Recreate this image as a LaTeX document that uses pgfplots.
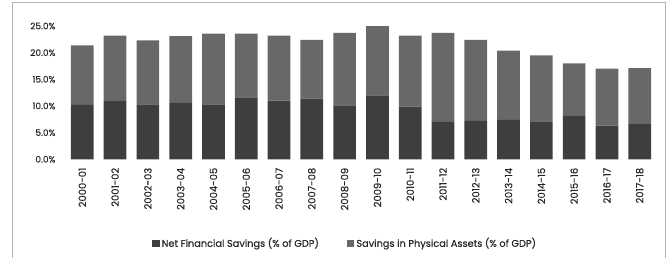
\documentclass[border=0pt]{standalone}
\usepackage{pgfplots}
\pgfplotsset{compat=1.18}
\usepackage{fontspec}
\setmainfont{Poppins}
\newfontfamily\chartfont{Poppins}[FakeBold=0.35]
\definecolor{darkbar}{HTML}{3E3E3E}
\definecolor{lightbar}{HTML}{686868}
\definecolor{framegray}{HTML}{B4B4B4}
\begin{document}
\begin{tikzpicture}[x=1bp,y=1bp]
\path[use as bounding box] (0,0) rectangle (668,257);
\draw[framegray, line width=1bp] (12,-5) -- (12,254) -- (665,254) -- (665,-5);
\begin{axis}[
  at={(65.9bp,97.7bp)}, anchor=south west,
  scale only axis, width=590.2bp, height=133.3bp,
  ybar stacked, bar width=22.7bp,
  xmin=-0.5, xmax=17.5, ymin=0, ymax=25,
  axis line style={draw=none},
  major tick length=0pt,
  xtick={0,...,17},
  xticklabels={2000-01,2001-02,2002-03,2003-04,2004-05,2005-06,2006-07,2007-08,2008-09,2009-10,2010-11,2011-12,2012-13,2013-14,2014-15,2015-16,2016-17,2017-18},
  xticklabel style={rotate=90, anchor=east, font=\chartfont\fontsize{10}{11}\selectfont, text=black!85, xshift=-5bp},
  ytick={0,5,10,15,20,25},
  yticklabel={\pgfmathprintnumber[fixed,fixed zerofill,precision=1]{\tick}\%},
  yticklabel style={font=\chartfont\fontsize{9}{10}\selectfont, text=black!85, anchor=east, xshift=-7bp},
  /pgf/number format/assume math mode=true,
  legend style={at={(0.473,-0.628)}, anchor=center, draw=none, legend columns=2,
    font=\chartfont\fontsize{9.8}{11}\selectfont, text=black!85,
    /tikz/every even column/.append style={column sep=26bp}},
  legend image code/.code={\fill[#1] (0bp,-3.5bp) rectangle (7.5bp,3.5bp);},
]
\addplot[fill=darkbar, draw=none] coordinates {
(0,10.2) (1,10.9) (2,10.3) (3,10.6) (4,10.3) (5,11.6) (6,11.0) (7,11.4) (8,10.1) (9,12.0) (10,9.9) (11,7.0) (12,7.2) (13,7.4) (14,7.1) (15,8.1) (16,6.3) (17,6.6)};
\addplot[fill=lightbar, draw=none] coordinates {
(0,11.15) (1,12.3) (2,12.0) (3,12.5) (4,13.25) (5,11.95) (6,12.2) (7,11.0) (8,13.6) (9,13.1) (10,13.3) (11,16.7) (12,15.2) (13,13.0) (14,12.4) (15,9.9) (16,10.7) (17,10.5)};
\legend{Net Financial Savings (\% of GDP),Savings in Physical Assets (\% of GDP)}
\end{axis}
\end{tikzpicture}
\end{document}
